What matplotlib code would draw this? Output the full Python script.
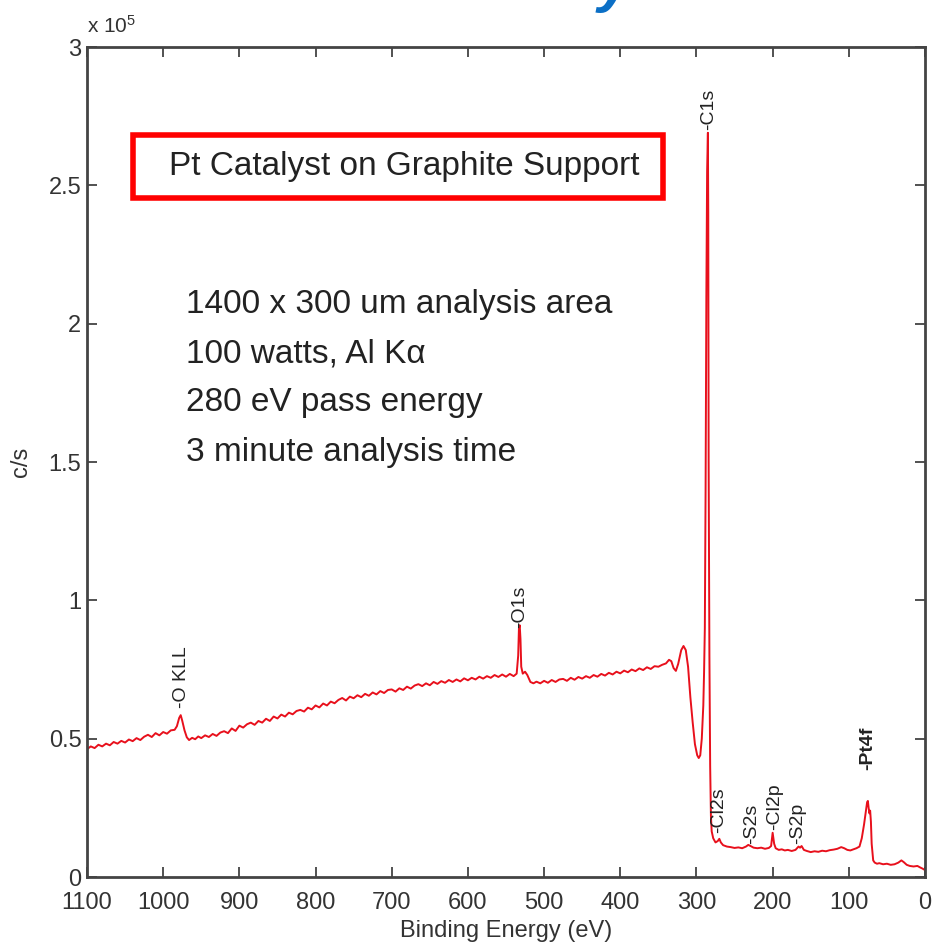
import matplotlib
matplotlib.use("Agg")
import matplotlib.pyplot as plt
from matplotlib.patches import Rectangle
from matplotlib.ticker import FuncFormatter, MultipleLocator

plt.rcParams['font.family'] = ['Liberation Sans', 'DejaVu Sans']
plt.rcParams['mathtext.default'] = 'regular'

# survey spectrum, binding energy (eV) vs counts (x 1e5 c/s)
energy = [1100, 1095, 1090, 1085, 1080, 1075, 1070, 1065, 1060, 1055, 1050, 1045, 1040,
          1035, 1030, 1025, 1020, 1015, 1010, 1005, 1000, 995, 990, 985, 982, 979, 977,
          975, 972, 969, 966, 962, 958, 954, 950, 945, 940, 935, 930, 925, 920, 915, 910,
          905, 900, 895, 890, 885, 880, 875, 870, 865, 860, 855, 850, 845, 840, 835, 830,
          825, 820, 815, 810, 805, 800, 795, 790, 785, 780, 775, 770, 765, 760, 755, 750,
          745, 740, 735, 730, 725, 720, 715, 710, 705, 700, 695, 690, 685, 680, 675, 670,
          665, 660, 655, 650, 645, 640, 635, 630, 625, 620, 615, 610, 605, 600, 595, 590,
          585, 580, 575, 570, 565, 560, 555, 550, 545, 540, 536, 534, 533, 532, 531, 530,
          528, 525, 522, 518, 514, 510, 505, 500, 495, 490, 485, 480, 475, 470, 465, 460,
          455, 450, 445, 440, 435, 430, 425, 420, 415, 410, 405, 400, 395, 390, 385, 380,
          375, 370, 365, 360, 355, 350, 345, 340, 336, 333, 330, 327, 324, 320, 317, 314,
          311, 308, 305, 302, 299, 297, 295, 293, 291, 290, 289, 288, 287, 286, 285, 284.5,
          284, 283, 282, 281, 280, 278, 275, 272, 270, 268, 265, 260, 255, 250, 245, 240,
          235, 232, 229, 225, 220, 215, 210, 205, 202, 200, 198, 196, 192, 188, 184, 180,
          175, 170, 166, 164, 162, 159, 155, 150, 145, 140, 135, 130, 125, 120, 115, 110,
          106, 102, 98, 94, 90, 86, 83, 80, 78, 76, 75, 74, 73, 72, 71, 70, 68, 66, 63, 60,
          55, 50, 45, 40, 35, 31, 28, 24, 20, 15, 10, 6, 3, 0]
counts = [0.462, 0.472, 0.466, 0.478, 0.472, 0.482, 0.476, 0.488, 0.482, 0.492, 0.486,
          0.497, 0.491, 0.502, 0.495, 0.507, 0.514, 0.506, 0.520, 0.512, 0.524, 0.518,
          0.530, 0.532, 0.545, 0.575, 0.585, 0.565, 0.530, 0.505, 0.495, 0.503, 0.498,
          0.508, 0.502, 0.512, 0.506, 0.517, 0.510, 0.522, 0.527, 0.520, 0.537, 0.528,
          0.547, 0.540, 0.552, 0.558, 0.550, 0.564, 0.558, 0.572, 0.564, 0.580, 0.573,
          0.587, 0.580, 0.594, 0.588, 0.600, 0.604, 0.598, 0.612, 0.606, 0.620, 0.613,
          0.627, 0.620, 0.634, 0.628, 0.640, 0.647, 0.638, 0.652, 0.646, 0.657, 0.650,
          0.662, 0.655, 0.667, 0.660, 0.672, 0.665, 0.676, 0.678, 0.670, 0.682, 0.676,
          0.688, 0.681, 0.692, 0.697, 0.690, 0.700, 0.693, 0.705, 0.698, 0.708, 0.702,
          0.712, 0.705, 0.714, 0.707, 0.718, 0.711, 0.720, 0.714, 0.724, 0.717, 0.726,
          0.720, 0.730, 0.723, 0.732, 0.724, 0.734, 0.726, 0.735, 0.800, 0.900, 0.910,
          0.860, 0.760, 0.735, 0.742, 0.730, 0.705, 0.700, 0.706, 0.700, 0.709, 0.702,
          0.712, 0.705, 0.714, 0.716, 0.709, 0.720, 0.713, 0.723, 0.717, 0.726, 0.720,
          0.730, 0.724, 0.734, 0.728, 0.738, 0.732, 0.742, 0.736, 0.746, 0.740, 0.750,
          0.744, 0.754, 0.748, 0.758, 0.752, 0.762, 0.760, 0.767, 0.772, 0.785, 0.780,
          0.755, 0.745, 0.770, 0.820, 0.835, 0.820, 0.760, 0.650, 0.560, 0.480, 0.440,
          0.430, 0.440, 0.500, 0.620, 0.740, 0.900, 1.400, 2.100, 2.550, 2.690, 2.400,
          1.500, 0.800, 0.400, 0.220, 0.165, 0.140, 0.125, 0.130, 0.138, 0.125, 0.115,
          0.110, 0.108, 0.105, 0.107, 0.104, 0.110, 0.116, 0.112, 0.106, 0.104, 0.106,
          0.102, 0.105, 0.112, 0.160, 0.120, 0.104, 0.098, 0.100, 0.096, 0.098, 0.094,
          0.098, 0.110, 0.106, 0.112, 0.098, 0.094, 0.090, 0.093, 0.091, 0.095, 0.093,
          0.097, 0.099, 0.102, 0.108, 0.104, 0.098, 0.096, 0.100, 0.104, 0.110, 0.140,
          0.190, 0.230, 0.270, 0.275, 0.250, 0.230, 0.240, 0.200, 0.120, 0.060, 0.052,
          0.048, 0.050, 0.046, 0.048, 0.044, 0.046, 0.052, 0.060, 0.054, 0.044, 0.040,
          0.038, 0.040, 0.034, 0.030, 0.025]

# peak labels: name, energy, height of label base
peak_names = ['-O KLL', '-O1s', '-C1s', '-Cl2s', '-S2s', '-Cl2p', '-S2p', '-Pt4f']
peak_energy = [976, 531.5, 283.5, 271.5, 227, 197, 167, 75]
peak_height = [0.61, 0.90, 2.70, 0.16, 0.12, 0.17, 0.12, 0.385]

info_lines = ['1400 x 300 um analysis area', '100 watts, Al K\u03b1',
              '280 eV pass energy', '3 minute analysis time']

fig = plt.figure(figsize=(9.35, 9.47), dpi=100)
ax = fig.add_axes([87 / 935, 70 / 947, 838 / 935, 830 / 947])

ax.plot(energy, counts, color='#e8101c', lw=1.4)
ax.set_xlim(1100, 0)
ax.set_ylim(0, 3)
ax.xaxis.set_major_locator(MultipleLocator(100))
ax.yaxis.set_major_locator(MultipleLocator(0.5))
ax.yaxis.set_major_formatter(FuncFormatter(lambda v, p: '%g' % v))
ax.tick_params(direction='in', length=7, width=1.2, top=True, right=True,
               labelsize=17, colors='#333333', pad=4)
ax.tick_params(axis='x', pad=11)
for s in ax.spines.values():
    s.set_linewidth(2)
    s.set_color('#444444')

ax.set_xlabel('Binding Energy (eV)', fontsize=17, color='#333333', labelpad=4)
ax.set_ylabel('c/s', fontsize=17, color='#333333', labelpad=12)
ax.text(0, 1.012, r'x 10$^{5}$', transform=ax.transAxes, fontsize=15,
        color='#333333', ha='left', va='bottom')

for name, e, h in zip(peak_names, peak_energy, peak_height):
    weight = 'bold' if name == '-Pt4f' else 'normal'
    ax.text(e, h, name, rotation=90, ha='center', va='bottom', fontsize=14,
            color='#222222', fontweight=weight)

# sample title in red frame
fig.patches.append(Rectangle((133 / 935, 1 - 198 / 947), 530 / 935, 63 / 947,
                             transform=fig.transFigure, fill=False,
                             edgecolor='#ff0000', lw=4, zorder=5))
fig.text(404 / 935, 1 - 167 / 947, 'Pt Catalyst on Graphite Support',
         fontsize=24, color='#222222', ha='center', va='center')

for i, line in enumerate(info_lines):
    fig.text(186 / 935, 1 - (305 + 49 * i) / 947, line, fontsize=24,
             color='#222222', ha='left', va='center')

# tail of the slide heading above the chart
fig.text(598 / 935, 1.0, 'y', fontsize=44, fontweight='bold', fontstyle='italic',
         color='#0b6fc6', ha='left', va='baseline')

fig.savefig('out.png', dpi=100)
